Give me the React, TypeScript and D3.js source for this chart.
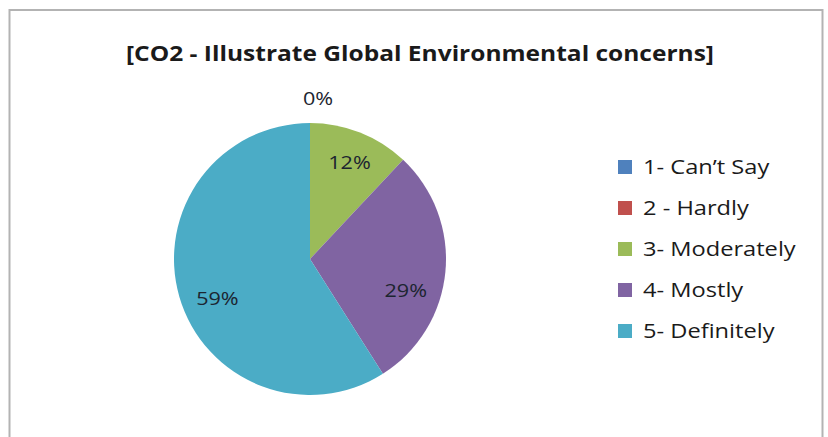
import React from "react";
import * as d3 from "d3";

const categories = ["1- Can\u2019t Say", "2 - Hardly", "3- Moderately", "4- Mostly", "5- Definitely"];
const values = [0, 0, 12, 29, 59];
const labels = ["0%", "0%", "12%", "29%", "59%"];
const colors = ["#4F81BD", "#C0504D", "#9BBB59", "#8064A2", "#4BACC6"];
const title = "[CO2 - Illustrate Global Environmental concerns]";

export default function App() {
  const W = 828, H = 437;
  const cx = 310, cy = 259, r = 136;
  const pie = d3.pie<number>().sort(null).value((d) => d)(values);
  const arc = d3.arc<d3.PieArcDatum<number>>().innerRadius(0).outerRadius(r);
  // label placement: radial fraction and angle nudge (radians) per slice
  const radF = [1.18, 1.18, 0.77, 0.74, 0.74];
  const angN = [0.05, 0, 0.01, 0.22, -0.12];
  const labelPos = (d: d3.PieArcDatum<number>, i: number) => {
    const a = (d.startAngle + d.endAngle) / 2 + angN[i];
    return [Math.sin(a) * r * radF[i], -Math.cos(a) * r * radF[i]];
  };
  const font = "'Open Sans', sans-serif";
  const sx = 1.2;
  return (
    <svg width={W} height={H} style={{ position: "absolute", left: 0, top: 0, background: "#fff" }}>
      <rect x={9.5} y={10} width={813} height={440} fill="#fff" stroke="#b3b3b3" strokeWidth={2} />
      <text x={420} y={61} textAnchor="middle" fontFamily={font} fontWeight={700} fontSize={21}
        fill="#1a1a1a" textLength={588} lengthAdjust="spacingAndGlyphs">{title}</text>
      <g transform={`translate(${cx},${cy})`}>
        {pie.map((d, i) => (
          <path key={i} d={arc(d) || ""} fill={colors[i]} />
        ))}
        {pie.map((d, i) => {
          if (i === 1) return null;
          const [x, y] = labelPos(d, i);
          return (
            <g key={"l" + i} transform={`translate(${x},${y}) scale(${sx},1)`}>
              <text x={0} y={0} dy="0.36em" textAnchor="middle" fontFamily={font}
                fontSize={18} fill="#1c2530">{labels[i]}</text>
            </g>
          );
        })}
      </g>
      <g>
        {categories.map((c, i) => (
          <g key={c} transform={`translate(618,${167 + i * 41})`}>
            <rect x={0} y={-7} width={14} height={14} fill={colors[i]} />
            <g transform={`translate(25,0) scale(${sx * 1.01},1)`}>
              <text x={0} y={0} dy="0.36em" fontFamily={font} fontSize={19.5} fill="#1a1a1a">{c}</text>
            </g>
          </g>
        ))}
      </g>
    </svg>
  );
}
